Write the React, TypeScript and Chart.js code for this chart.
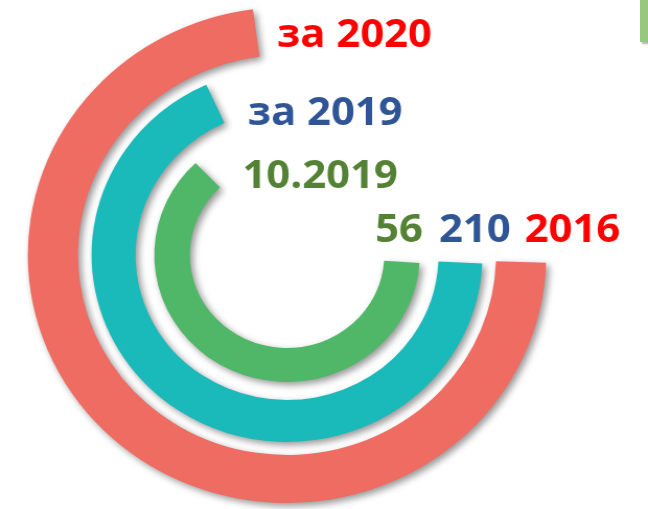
import React, { useEffect, useRef } from "react";
import { Chart, registerables } from "chart.js";

Chart.register(...registerables);

// ---- data ----
const endLabels = ["за 2020", "за 2019", "10.2019"];
const startLabels = ["2016", "210", "56"];
const arcShare = [72.4, 67.5, 61.9]; // % of a full turn covered by each ring
const startAngles = [91.8, 92.6, 93.6]; // degrees, 0 = top, clockwise
const ringColors = ["#EE6C62", "#1AB9BA", "#50B769"];
const labelColors = ["#FF0000", "#2F5597", "#548235"];
const ringWeights = [48, 42, 34];
const gapWeights = [13, 18];

const CANVAS_W = 620;
const CANVAS_H = 509;
const STRETCH = 648 / CANVAS_W;

// label layout (canvas pixels)
const endLabelPos = [
  { x: 265, y: 47 },
  { x: 237, y: 125 },
  { x: 232, y: 188 },
];
const startLabelPos = [
  { x: 502, y: 242 },
  { x: 420, y: 242 },
  { x: 359, y: 242 },
];

const shadowPlugin = {
  id: "ringShadow",
  beforeDatasetsDraw(chart: any) {
    const c = chart.ctx;
    c.save();
    c.shadowColor = "rgba(0,0,0,0.42)";
    c.shadowBlur = 7;
    c.shadowOffsetX = 3;
    c.shadowOffsetY = 3;
  },
  afterDatasetsDraw(chart: any) {
    chart.ctx.restore();
  },
};

const labelPlugin = {
  id: "ringLabels",
  afterDraw(chart: any) {
    const c = chart.ctx;
    c.save();
    c.font = 'bold 40px "Open Sans"';
    c.textAlign = "left";
    c.textBaseline = "alphabetic";
    for (let i = 0; i < endLabels.length; i++) {
      c.fillStyle = labelColors[i];
      c.fillText(endLabels[i], endLabelPos[i].x, endLabelPos[i].y);
      c.fillText(startLabels[i], startLabelPos[i].x, startLabelPos[i].y);
    }
    c.restore();
  },
};

export default function App() {
  const ref = useRef<HTMLCanvasElement | null>(null);

  useEffect(() => {
    if (!ref.current) return;
    const transparent = "rgba(0,0,0,0)";
    const ring = (i: number) => ({
      data: [arcShare[i], 100 - arcShare[i]],
      backgroundColor: [ringColors[i], transparent],
      weight: ringWeights[i],
      rotation: startAngles[i],
      borderWidth: 0,
      hoverBorderWidth: 0,
      hoverOffset: 0,
      offset: 0,
    });
    const gap = (i: number) => ({
      data: [100],
      backgroundColor: [transparent],
      weight: gapWeights[i],
      borderWidth: 0,
      hoverBorderWidth: 0,
      hoverOffset: 0,
      offset: 0,
    });
    const chart = new Chart(ref.current, {
      type: "doughnut",
      data: {
        labels: ["value", "rest"],
        datasets: [ring(0), gap(0), ring(1), gap(1), ring(2)] as any,
      },
      options: {
        responsive: false,
        animation: false,
        events: [],
        cutout: 93,
        layout: { padding: { left: 26.6, right: 97.4, top: 7, bottom: 6 } },
        plugins: {
          legend: { display: false },
          tooltip: { enabled: false },
        },
      } as any,
      plugins: [shadowPlugin, labelPlugin],
    });
    return () => chart.destroy();
  }, []);

  return (
    <div
      style={{
        position: "absolute",
        left: 0,
        top: 0,
        width: 648,
        height: 509,
        overflow: "hidden",
        background: "#ffffff",
      }}
    >
      <div
        style={{
          width: CANVAS_W,
          height: CANVAS_H,
          transform: `scaleX(${STRETCH})`,
          transformOrigin: "0 0",
        }}
      >
        <canvas ref={ref} width={CANVAS_W} height={CANVAS_H} />
      </div>
      <div
        style={{
          position: "absolute",
          left: 640,
          top: 0,
          width: 8,
          height: 42,
          background: "#97C87D",
          boxShadow: "2px 2px 2px rgba(0,0,0,0.3)",
        }}
      />
    </div>
  );
}
